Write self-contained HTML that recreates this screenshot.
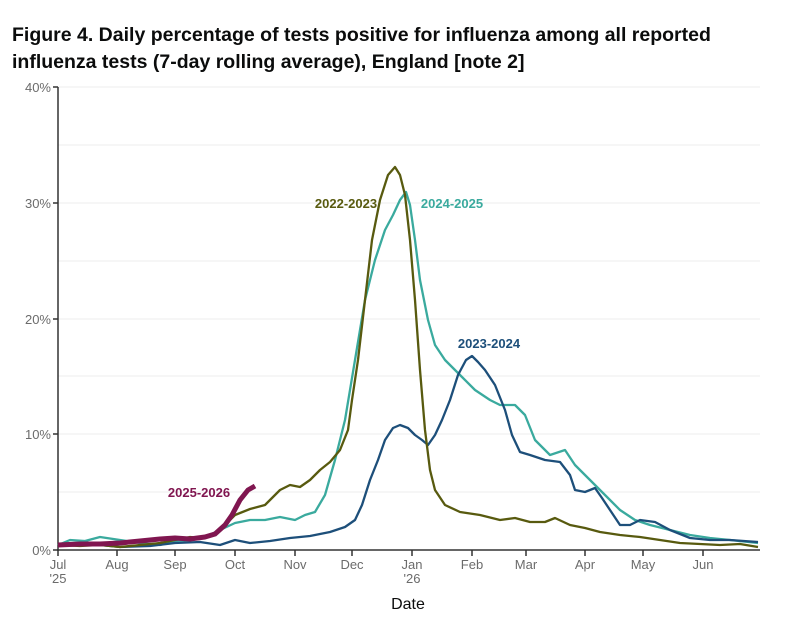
<!DOCTYPE html>
<html><head><style>
body{margin:0;background:#fff;width:808px;height:624px;overflow:hidden;font-family:"Liberation Sans",sans-serif}
h1{position:absolute;left:12px;top:22px;margin:0;font-size:19.5px;line-height:27px;font-weight:bold;color:#0b0c0c;white-space:nowrap}
</style></head><body>
<h1>Figure 4. Daily percentage of tests positive for influenza among all reported<br>influenza tests (7-day rolling average), England [note 2]</h1>
<svg width="808" height="624" style="position:absolute;left:0;top:0" font-family="Liberation Sans, sans-serif">
<g stroke="#ececec" stroke-width="1">
<line x1="58" x2="760" y1="87" y2="87"/><line x1="58" x2="760" y1="145" y2="145"/>
<line x1="58" x2="760" y1="203" y2="203"/><line x1="58" x2="760" y1="261" y2="261"/>
<line x1="58" x2="760" y1="319" y2="319"/><line x1="58" x2="760" y1="376" y2="376"/>
<line x1="58" x2="760" y1="434" y2="434"/><line x1="58" x2="760" y1="492" y2="492"/>
</g>
<g stroke="#333" stroke-width="1.5">
<line x1="58" x2="58" y1="87" y2="551"/><line x1="57" x2="760" y1="550" y2="550"/>
<line x1="53" x2="58" y1="87" y2="87"/><line x1="53" x2="58" y1="203" y2="203"/><line x1="53" x2="58" y1="319" y2="319"/><line x1="53" x2="58" y1="434" y2="434"/><line x1="53" x2="58" y1="550" y2="550"/>
<line x1="58" x2="58" y1="550" y2="556"/><line x1="117" x2="117" y1="550" y2="556"/><line x1="175" x2="175" y1="550" y2="556"/><line x1="235" x2="235" y1="550" y2="556"/><line x1="295" x2="295" y1="550" y2="556"/><line x1="352" x2="352" y1="550" y2="556"/><line x1="412" x2="412" y1="550" y2="556"/><line x1="472" x2="472" y1="550" y2="556"/><line x1="526" x2="526" y1="550" y2="556"/><line x1="585" x2="585" y1="550" y2="556"/><line x1="643" x2="643" y1="550" y2="556"/><line x1="703" x2="703" y1="550" y2="556"/>
</g>
<g fill="#6b6b6b" font-size="13" text-anchor="end">
<text x="51" y="92">40%</text><text x="51" y="208">30%</text><text x="51" y="324">20%</text><text x="51" y="439">10%</text><text x="51" y="555">0%</text>
</g>
<g fill="#6b6b6b" font-size="13" text-anchor="middle">
<text x="58" y="569">Jul</text><text x="58" y="583">'25</text>
<text x="117" y="569">Aug</text><text x="175" y="569">Sep</text><text x="235" y="569">Oct</text><text x="295" y="569">Nov</text><text x="352" y="569">Dec</text>
<text x="412" y="569">Jan</text><text x="412" y="583">'26</text>
<text x="472" y="569">Feb</text><text x="526" y="569">Mar</text><text x="585" y="569">Apr</text><text x="643" y="569">May</text><text x="703" y="569">Jun</text>
</g>
<text x="408" y="609" font-size="16" fill="#0b0c0c" text-anchor="middle">Date</text>
<g fill="none" stroke-width="2.3" stroke-linejoin="round">
<polyline stroke="#3aaa9e" points="58,545 70,540 85,541 100,537 120,540 140,543 160,545 175,541 190,540 205,537 220,530 235,523 250,520 265,520 280,517 295,520 305,515 315,512 325,495 335,460 345,420 355,360 365,300 375,260 385,230 393,215 400,200 406,192 410,205 415,240 420,280 428,320 435,345 445,360 460,375 475,390 490,400 500,405 515,405 525,415 535,440 550,455 565,450 575,465 590,480 605,495 620,510 635,520 650,525 670,530 690,535 710,538 730,540 758,543"/>
<polyline stroke="#1d4f7a" points="58,545 100,545 120,547 150,546 175,543 200,542 220,545 235,540 250,543 270,541 290,538 310,536 330,532 345,527 355,520 362,505 370,480 378,460 385,440 393,428 400,425 408,428 415,435 422,440 428,445 435,435 442,420 450,400 458,375 466,360 472,356 478,362 485,370 495,385 505,410 512,435 520,452 530,455 545,460 560,462 570,475 575,490 585,492 595,488 602,498 610,510 620,525 630,525 640,520 655,522 670,530 690,538 710,540 730,540 758,542"/>
<polyline stroke="#585a0f" points="58,545 80,546 100,545 120,547 140,545 160,543 175,540 190,537 205,538 220,530 235,515 250,509 265,505 280,490 290,485 300,487 310,480 320,470 330,462 340,450 348,430 352,400 358,360 365,300 372,240 380,200 388,175 395,167 400,175 405,195 410,240 415,300 420,370 425,430 430,470 435,490 445,505 460,512 480,515 500,520 515,518 530,522 545,522 555,518 570,525 585,528 600,532 620,535 640,537 660,540 680,543 700,544 720,545 740,544 758,547"/>
<polyline stroke="#801650" stroke-width="5" points="58,545 80,544 100,544 120,543 140,541 160,539 175,538 190,539 205,537 215,534 225,525 232,515 240,500 248,490 255,486"/>
</g>
<g font-size="13" font-weight="bold" text-anchor="middle">
<text x="346" y="208" fill="#585a0f">2022-2023</text>
<text x="452" y="208" fill="#3aaa9e">2024-2025</text>
<text x="489" y="348" fill="#1d4f7a">2023-2024</text>
<text x="199" y="497" fill="#801650">2025-2026</text>
</g>
</svg>
</body></html>
